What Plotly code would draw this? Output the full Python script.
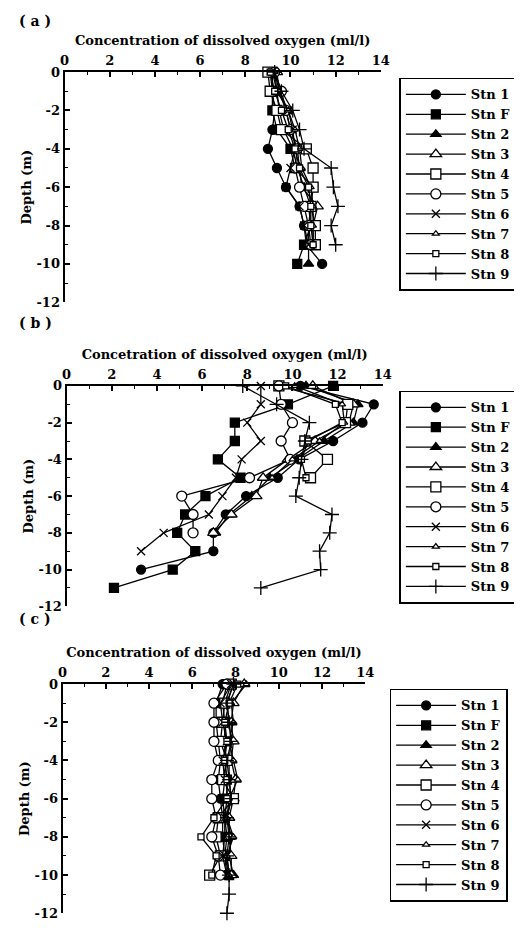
import plotly.graph_objects as go

W, H = 522, 930
OFF = 8  # default page margin of the HTML body

STATIONS = ["Stn 1", "Stn F", "Stn 2", "Stn 3", "Stn 4", "Stn 5", "Stn 6", "Stn 7", "Stn 8", "Stn 9"]
DEPTHS = [0, -1, -2, -3, -4, -5, -6, -7, -8, -9, -10, -11, -12]

X_TICKS = [0, 2, 4, 6, 8, 10, 12, 14]
Y_TICKS = [0, -2, -4, -6, -8, -10, -12]
Y_TICKTEXT = ["0", "-2", "-4", "-6", "-8", "-10", "-12"]

# ---- panel (a) dissolved oxygen (ml/l) by depth 0, -1, -2 ...
A_STN1 = [9.1, 9.2, 9.3, 9.2, 9.0, 9.4, 9.8, 10.4, 10.6, 10.7, 11.4]
A_STNF = [9.2, 9.2, 9.2, 9.4, 10.0, 10.2, 11.0, 10.8, 10.9, 10.6, 10.3]
A_STN2 = [9.3, 9.4, 9.5, 9.7, 10.1, 10.3, 10.6, 10.9, 10.8, 10.8, 10.8]
A_STN3 = [9.4, 9.5, 9.8, 10.0, 10.3, 10.4, 10.5, 11.2, 11.0, 11.0]
A_STN4 = [9.0, 9.1, 9.4, 9.6, 10.7, 11.0, 11.0, 10.9, 11.1, 11.1]
A_STN5 = [9.3, 9.6, 9.8, 10.0, 10.3, 10.2, 10.4, 10.6, 10.8, 10.9]
A_STN6 = [9.2, 9.4, 9.9, 10.1, 10.2, 10.0, 9.8, 10.4, 10.6, 10.8]
A_STN7 = [9.3, 9.5, 9.9, 10.2, 10.4, 10.5, 10.9, 11.0, 11.0, 11.0]
A_STN8 = [9.1, 9.3, 9.6, 9.9, 10.2, 10.4, 10.8, 10.9, 10.9, 11.0]
A_STN9 = [9.3, 9.6, 10.1, 10.4, 10.6, 11.8, 11.9, 12.1, 11.8, 12.0]

# ---- panel (b)
B_STN1 = [10.35, 13.6, 13.1, 11.8, 10.3, 9.35, 7.95, 7.05, 6.5, 6.5, 3.3]
B_STNF = [11.8, 9.8, 7.45, 7.45, 6.7, 7.7, 6.15, 5.25, 4.9, 5.7, 4.7, 2.1]
B_STN2 = [10.6, 12.9, 12.7, 11.4, 10.2, 9.0, 8.2, 7.2, 6.6]
B_STN3 = [10.9, 12.7, 12.5, 11.0, 9.8, 8.7, 8.4, 7.3, 6.5]
B_STN4 = [9.4, 12.45, 12.35, 10.55, 11.55, 10.8]
B_STN5 = [9.4, 9.5, 10.0, 9.5, 9.9, 8.1, 5.1, 5.6, 5.6]
B_STN6 = [8.6, 8.6, 8.0, 8.6, 7.75, 7.5, 6.9, 6.3, 4.3, 3.3]
B_STN7 = [10.1, 12.2, 12.3, 11.2, 10.0, 9.1]
B_STN8 = [9.7, 11.9, 12.2, 10.7, 10.4, 10.6]
B_STN9 = [7.8, 9.3, 10.75, 10.55, 10.4, 10.3, 10.15, 11.75, 11.65, 11.2, 11.25, 8.6]

# ---- panel (c)
C_STN1 = [7.4, 7.1, 7.1, 7.2, 7.3, 7.2, 7.3, 7.4, 7.4, 7.5, 7.6]
C_STNF = [7.6, 7.4, 7.5, 7.5, 7.5, 7.6, 7.6, 7.5, 7.6, 7.5, 7.7]
C_STN2 = [7.9, 7.6, 7.7, 7.8, 7.7, 7.7, 7.8, 7.6, 7.8, 7.7, 7.9]
C_STN3 = [8.4, 7.9, 7.8, 7.9, 7.8, 8.0, 7.9, 7.7, 7.7, 7.8, 7.8]
C_STN4 = [7.8, 7.5, 7.4, 7.3, 7.6, 7.4, 7.9, 7.2, 7.1, 7.3, 6.8]
C_STN5 = [7.6, 7.0, 7.0, 7.0, 7.2, 6.9, 6.9, 7.1, 6.9, 7.2, 7.3]
C_STN6 = [7.8, 7.3, 7.4, 7.6, 7.4, 7.5, 7.4, 7.5, 7.5, 7.4, 7.6]
C_STN7 = [8.5, 7.8, 7.9, 7.7, 7.9, 8.1, 7.7, 7.6, 7.9, 7.6, 7.7]
C_STN8 = [8.1, 7.7, 7.5, 7.6, 7.5, 7.6, 7.6, 7.0, 6.4, 7.1, 6.9]
C_STN9 = [7.9, 7.6, 7.7, 7.8, 7.6, 7.7, 7.8, 7.6, 7.7, 7.6, 7.7, 7.7, 7.6]

PANEL_A = [A_STN1, A_STNF, A_STN2, A_STN3, A_STN4, A_STN5, A_STN6, A_STN7, A_STN8, A_STN9]
PANEL_B = [B_STN1, B_STNF, B_STN2, B_STN3, B_STN4, B_STN5, B_STN6, B_STN7, B_STN8, B_STN9]
PANEL_C = [C_STN1, C_STNF, C_STN2, C_STN3, C_STN4, C_STN5, C_STN6, C_STN7, C_STN8, C_STN9]

# marker styles per station
SYMBOLS = ["circle", "square", "triangle-up", "triangle-up", "square", "circle",
           "x-thin", "triangle-up", "square", "cross-thin"]
FILLS = ["black", "black", "black", "white", "white", "white", "black", "white", "white", "black"]
SIZES = [9, 9, 9, 10, 10, 10, 8, 6, 6, 10]

FONT = "DejaVu Serif"

fig = go.Figure()

panels = [
    (PANEL_A, "x", "y", "legend"),
    (PANEL_B, "x2", "y2", "legend2"),
    (PANEL_C, "x3", "y3", "legend3"),
]
for values_list, xa, ya, lg in panels:
    for name, vals, sym, fill, size in zip(STATIONS, values_list, SYMBOLS, FILLS, SIZES):
        fig.add_trace(go.Scatter(
            x=vals, y=DEPTHS[:len(vals)], name=name, mode="lines+markers",
            xaxis=xa, yaxis=ya, legend=lg, cliponaxis=False,
            line=dict(color="black", width=1.3),
            marker=dict(symbol=sym, size=size, color=fill,
                        line=dict(color="black", width=1.3)),
        ))


def px_x(px):
    return (px - OFF) / W


def px_y(py):
    return 1 - (py - OFF) / H


def xaxis(x0, x1, anchor, title):
    return dict(
        domain=[px_x(x0), px_x(x1)], anchor=anchor, side="top", range=[0, 14],
        tickmode="array", tickvals=X_TICKS, ticktext=[str(v) for v in X_TICKS],
        ticks="inside", ticklen=5, tickwidth=1.5, tickcolor="black",
        showline=True, linecolor="black", linewidth=2, showgrid=False, zeroline=False,
        minor=dict(ticks="inside", ticklen=3, dtick=1, tick0=0, tickcolor="black",
                   tickwidth=1, showgrid=False),
        tickfont=dict(size=13, family=FONT, color="black", weight="bold"),
        title=dict(text=title, standoff=4,
                   font=dict(size=13, family=FONT, color="black", weight="bold")),
    )


def yaxis(y_top, y_bot, anchor):
    return dict(
        domain=[px_y(y_bot), px_y(y_top)], anchor=anchor, range=[-12, 0],
        tickmode="array", tickvals=Y_TICKS, ticktext=Y_TICKTEXT,
        ticks="inside", ticklen=5, tickwidth=1.5, tickcolor="black",
        showline=True, linecolor="black", linewidth=2, showgrid=False, zeroline=False,
        minor=dict(ticks="inside", ticklen=3, dtick=1, tick0=0, tickcolor="black",
                   tickwidth=1, showgrid=False),
        tickfont=dict(size=13, family=FONT, color="black", weight="bold"),
        title=dict(text="Depth (m)", standoff=2,
                   font=dict(size=13, family=FONT, color="black", weight="bold")),
    )


def legend(x0, y0):
    return dict(
        x=px_x(x0), y=px_y(y0), xanchor="left", yanchor="top",
        bordercolor="black", borderwidth=1.5, bgcolor="white",
        font=dict(size=13, family=FONT, color="black", weight="bold"),
        tracegroupgap=0, itemwidth=60,
    )


fig.update_layout(
    width=W, height=H, margin=dict(l=0, r=0, t=0, b=0),
    paper_bgcolor="white", plot_bgcolor="white",
    font=dict(family=FONT, color="black"),
    showlegend=True,
    xaxis=xaxis(61, 386, "y", "Concentration of dissolved oxygen (ml/l)"),
    yaxis=yaxis(66, 300, "x"),
    xaxis2=xaxis(63, 388, "y2", "Concetration of dissolved oxygen (ml/l)"),
    yaxis2=yaxis(385, 609, "x2"),
    xaxis3=xaxis(59, 370, "y3", "Concentration of dissolved oxygen (ml/l)"),
    yaxis3=yaxis(688, 921, "x3"),
    legend=legend(405, 72),
    legend2=legend(405, 390),
    legend3=legend(395, 693),
)

for label, py in [("( a )", 14), ("( b )", 321), ("( c )", 622)]:
    fig.add_annotation(text=label, x=px_x(12), y=px_y(py), xref="paper", yref="paper",
                       xanchor="left", yanchor="middle", showarrow=False,
                       font=dict(size=14, family=FONT, color="black", weight="bold"))

fig.write_html("out.html")
